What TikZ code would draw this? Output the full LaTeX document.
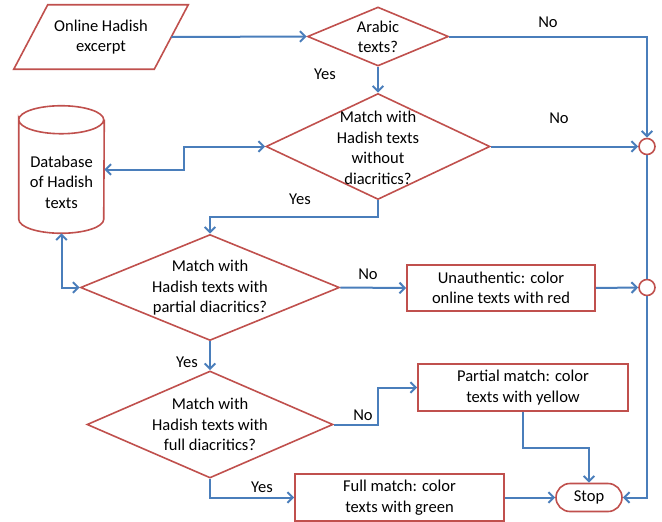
\documentclass[tikz,border=0pt]{standalone}
\usepackage{fontspec}
\setmainfont{Carlito}
\usetikzlibrary{shapes.geometric,arrows.meta}
\definecolor{bred}{HTML}{C0504D}
\definecolor{lblue}{HTML}{4A7EBB}
\begin{document}
\begin{tikzpicture}[x=0.75pt,y=-0.75pt,
 font=\fontsize{12.4}{15.4}\selectfont,
 shp/.style={draw=bred,line width=1.2pt,inner sep=0pt,fill=white},
 dia/.style={shp,diamond},
 box/.style={shp,rectangle,align=center},
 txt/.style={align=center,inner sep=0pt},
 tip/.tip={Straight Barb[length=4pt,width=8pt]},
 conn/.style={draw=lblue,line width=1.5pt,-tip},
 conn2/.style={draw=lblue,line width=1.5pt,tip-tip},
 plain/.style={draw=lblue,line width=1.5pt}
]
\useasboundingbox (0,0) rectangle (662,522);

% input parallelogram
\node[inner sep=0pt,minimum width=105pt,minimum height=48pt] (in) at (101,37) {};
\draw[bred,line width=1.2pt,fill=white]
  ([xshift=12.75pt]in.north west) -- ([xshift=12.75pt]in.north east)
  -- ([xshift=-12.75pt]in.south east) -- ([xshift=-12.75pt]in.south west) -- cycle;
\node[txt] (intx) at (101,37) {Online Hadish\\excerpt};

% diamonds
\node[dia,minimum width=105.75pt,minimum height=44.25pt] (d1) at (378,36.5) {};
\node[txt] (d1t) at (378,37) {Arabic\\texts?};
\node[dia,minimum width=168pt,minimum height=79.5pt] (d2) at (378,146.5) {};
\node[txt] (d2t) at (378,148) {Match with\\Hadish texts\\without\\diacritics?};
\node[dia,minimum width=194.25pt,minimum height=79.5pt] (d3) at (210,287.5) {};
\node[txt] (d3t) at (210,288) {Match with\\Hadish texts with\\partial diacritics?};
\node[dia,minimum width=184.5pt,minimum height=80.25pt] (d4) at (210,424.5) {};
\node[txt] (d4t) at (210,424.5) {Match with\\Hadish texts with\\full diacritics?};

% database cylinder
\node[inner sep=0pt,minimum width=63.75pt,minimum height=95.25pt] (db) at (61.5,169.5) {};
\draw[bred,line width=1.2pt,fill=white] ([yshift=-10.5pt]db.north west)
  arc[start angle=180,end angle=-180,x radius=31.875pt,y radius=10.5pt]
  -- ([yshift=10.5pt]db.south west)
  arc[start angle=180,end angle=360,x radius=31.875pt,y radius=10.5pt]
  -- ([yshift=-10.5pt]db.north east);
\node[txt] (dbt) at (61.5,182) {Database\\of Hadish\\texts};

% boxes
\node[box,minimum width=141pt,minimum height=34.5pt] (u) at (501,288) {Unauthentic: color\\online texts with red};
\node[box,minimum width=157.5pt,minimum height=35.25pt] (p) at (523,387.5) {Partial match: color\\texts with yellow};
\node[box,minimum width=156.75pt,minimum height=35.25pt] (f) at (399.5,497.5) {Full match: color\\texts with green};
\node[shp,rounded corners=10.5pt,minimum width=49.5pt,minimum height=21pt] (stop) at (589,497.5) {Stop};

% connector circles
\node[shp,circle,minimum size=12pt] (c1) at (647,146.5) {};
\node[shp,circle,minimum size=12pt] (c2) at (647,287.5) {};

% connectors
\draw[conn] (in.east) -- (d1.west);
\draw[conn] (d1.east) -| (c1.north);
\draw[conn] (d1.south) -- (d2.north);
\draw[conn] (d2.east) -- (c1.west);
\draw[conn2] (d2.west) -- ++(-81,0) |- (db.east);
\draw[conn] (d2.south) -- ++(0,17) -| (d3.north);
\draw[conn2] (db.south) |- (d3.west);
\draw[conn] (d3.east) -- (u.west);
\draw[conn] (u.east) -- (c2.west);
\draw[plain] (c1.south) -- (c2.north);
\draw[conn] (c2.south) |- (stop.east);
\draw[conn] (d3.south) -- (d4.north);
\draw[conn] (d4.east) -- ++(44,0) |- (p.west);
\draw[conn] (p.south) -- ++(0,36) -| (stop.north);
\draw[conn] (d4.south) |- (f.west);
\draw[conn] (f.east) -- (stop.west);

% labels
\node[txt] (l1) at (548,22) {No};
\node[txt] (l2) at (325,74) {Yes};
\node[txt] (l3) at (559,118) {No};
\node[txt] (l4) at (300,199) {Yes};
\node[txt] (l5) at (368,274) {No};
\node[txt] (l6) at (187,362) {Yes};
\node[txt] (l7) at (363,415) {No};
\node[txt] (l8) at (262,487) {Yes};
\end{tikzpicture}
\end{document}
